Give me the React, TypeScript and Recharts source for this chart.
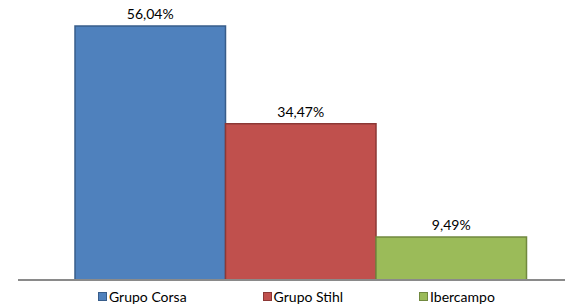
import { BarChart, Bar, XAxis, YAxis, LabelList, Legend } from "recharts";

const categories = [""];
const seriesNames = ["Grupo Corsa", "Grupo Stihl", "Ibercampo"];
const seriesValues = [56.04, 34.47, 9.49];
const seriesColors = ["#4F81BD", "#C0504D", "#9BBB59"];
const seriesBorders = ["#385D8A", "#8C3836", "#71893F"];

const data = categories.map((c) => {
  const row: Record<string, string | number> = { name: c };
  seriesNames.forEach((n, i) => {
    row[n] = seriesValues[i];
  });
  return row;
});

const fmt = (v: any) => Number(v).toFixed(2).replace(".", ",") + "%";

function LegendBox() {
  return (
    <div
      style={{
        display: "flex",
        gap: 76,
        paddingLeft: 80,
        paddingTop: 7,
        fontFamily: "Lato, 'Open Sans', sans-serif",
        fontSize: 14,
        color: "#000",
        height: 17,
        alignItems: "center",
      }}
    >
      {seriesNames.map((n, i) => (
        <div key={n} style={{ display: "flex", alignItems: "center" }}>
          <span
            style={{
              display: "inline-block",
              width: 7,
              height: 7,
              background: seriesColors[i],
              border: `1px solid ${seriesBorders[i]}`,
              marginRight: 2,
            }}
          />
          {n}
        </div>
      ))}
    </div>
  );
}

export default function App() {
  return (
    <div style={{ position: "absolute", left: 0, top: 0, background: "#fff" }}>
      <BarChart
        width={565}
        height={307}
        data={data}
        margin={{ top: 8, right: 0, left: 18, bottom: 0 }}
        barSize={150.5}
        barGap={0}
        style={{ fontFamily: "Lato, 'Open Sans', sans-serif" }}
      >
        <XAxis
          dataKey="name"
          height={1}
          tick={false}
          tickLine={false}
          padding={{ left: 19, right: 0 }}
          axisLine={{ stroke: "#8a8a8a", strokeWidth: 2 }}
        />
        <YAxis hide domain={[0, 60]} />
        <Legend verticalAlign="bottom" height={26} content={() => <LegendBox />} />
        {seriesNames.map((n, i) => (
          <Bar
            key={n}
            dataKey={n}
            fill={seriesColors[i]}
            stroke={seriesBorders[i]}
            strokeWidth={1.5}
            isAnimationActive={false}
          >
            <LabelList
              dataKey={n}
              position="top"
              offset={7}
              formatter={fmt}
              style={{ fill: "#000", fontSize: 14 }}
            />
          </Bar>
        ))}
      </BarChart>
    </div>
  );
}
